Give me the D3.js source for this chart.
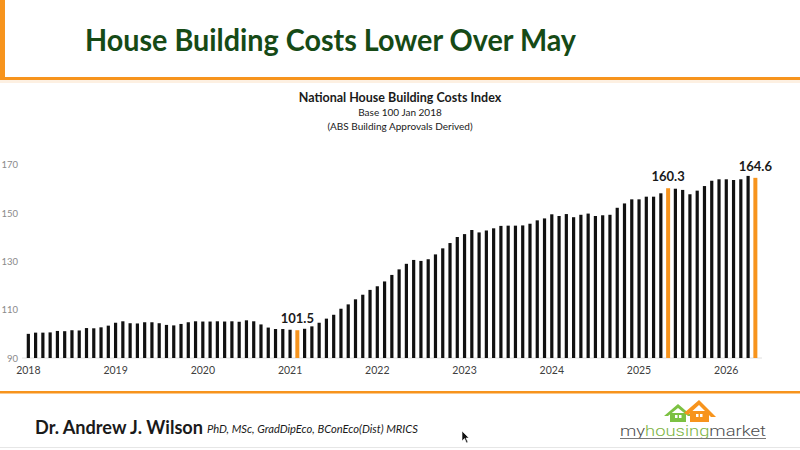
<!DOCTYPE html>
<html>
<head>
<meta charset="utf-8">
<script src="https://cdn.jsdelivr.net/npm/d3@7"></script>
<style>
  body { margin: 0; background: #fff; }
  svg { display: block; }
</style>
</head>
<body>
<div id="chart"></div>
<script>
var width = 800;
var height = 450;

// monthly index values, Jan 2018 .. May 2026 (base 100 Jan 2018)
var years = ['2018', '2019', '2020', '2021', '2022', '2023', '2024', '2025', '2026'];
var monthNames = ['01', '02', '03', '04', '05', '06', '07', '08', '09', '10', '11', '12'];
var indexValues = [
  100.0, 100.5, 100.5, 100.6, 101.2, 101.1, 101.5, 101.4, 102.4, 102.3, 102.7, 103.4,
  104.6, 105.2, 104.4, 104.3, 104.8, 104.8, 104.4, 103.7, 103.5, 104.1, 104.8, 105.2,
  105.1, 105.1, 105.2, 105.1, 105.2, 105.0, 105.6, 105.2, 103.9, 102.6, 102.0, 102.0,
  101.7, 101.5, 102.1, 103.1, 104.6, 106.3, 107.9, 110.4, 112.2, 114.3, 116.2, 118.2,
  119.7, 121.7, 124.4, 126.7, 129.0, 130.6, 130.2, 130.9, 132.9, 135.4, 137.6, 140.1,
  141.3, 143.0, 142.0, 142.8, 143.7, 144.7, 144.8, 144.8, 144.9, 145.6, 147.0, 147.8,
  149.5, 148.8, 149.6, 148.3, 149.3, 149.8, 148.8, 149.1, 149.3, 152.2, 154.0, 155.7,
  155.7, 156.8, 156.8, 158.2, 160.3, 160.1, 159.6, 157.8, 159.3, 161.2, 163.4, 164.0,
  164.0, 163.7, 164.0, 165.4, 164.6
];
var highlightMonths = ['2021-02', '2025-05', '2026-05'];
var yTicks = [90, 110, 130, 150, 170];

var months = [];
years.forEach(function(y) {
  monthNames.forEach(function(m) { months.push(y + '-' + m); });
});
months = months.slice(0, indexValues.length);
var data = months.map(function(m, i) { return { month: m, value: indexValues[i] }; });

var svg = d3.select('#chart').append('svg')
  .attr('width', width)
  .attr('height', height);

// header
svg.append('rect').attr('x', 0).attr('y', 0).attr('width', 5).attr('height', 79).attr('fill', '#f7941d');
svg.append('rect').attr('x', 0).attr('y', 77).attr('width', width).attr('height', 3).attr('fill', '#f7941d');
svg.append('rect').attr('x', 0).attr('y', 80).attr('width', width).attr('height', 3).attr('fill', '#fdf0e2');

svg.append('text')
  .attr('x', 85).attr('y', 51)
  .attr('font-family', 'Lato, sans-serif')
  .attr('font-weight', 'bold')
  .attr('font-size', 30.5)
  .attr('fill', '#164a16')
  .attr('textLength', 491)
  .attr('lengthAdjust', 'spacingAndGlyphs')
  .text('House Building Costs Lower Over May');

var titles = [
  { t: 'National House Building Costs Index', y: 102, s: 12.5, w: 'bold' },
  { t: 'Base 100 Jan 2018', y: 116, s: 10, w: 'normal' },
  { t: '(ABS Building Approvals Derived)', y: 130, s: 10, w: 'normal' }
];
svg.selectAll('.ctitle').data(titles).enter().append('text')
  .attr('class', 'ctitle')
  .attr('x', 400).attr('y', function(d) { return d.y; })
  .attr('text-anchor', 'middle')
  .attr('font-family', 'Lato, sans-serif')
  .attr('font-size', function(d) { return d.s; })
  .attr('font-weight', function(d) { return d.w; })
  .attr('fill', '#1a1a1a')
  .text(function(d) { return d.t; });

// scales
var x = d3.scaleBand()
  .domain(months)
  .range([24.7, 759])
  .paddingInner(0.56)
  .paddingOuter(0.28);

var y = d3.scaleLinear()
  .domain([90, 170])
  .range([358, 164.8]);

svg.append('line')
  .attr('x1', 22).attr('x2', 762)
  .attr('y1', y(90)).attr('y2', y(90))
  .attr('stroke', '#e0e0e0').attr('stroke-width', 1);

svg.selectAll('.bar').data(data).enter().append('rect')
  .attr('class', 'bar')
  .attr('x', function(d) {
    var hi = highlightMonths.indexOf(d.month) >= 0;
    return x(d.month) + x.bandwidth() / 2 - (hi ? 2 : 1.6);
  })
  .attr('width', function(d) { return highlightMonths.indexOf(d.month) >= 0 ? 4 : 3.2; })
  .attr('y', function(d) { return y(d.value); })
  .attr('height', function(d) { return y(90) - y(d.value); })
  .attr('fill', function(d) { return highlightMonths.indexOf(d.month) >= 0 ? '#f7941d' : '#111'; });

svg.selectAll('.vlabel').data(data.filter(function(d) { return highlightMonths.indexOf(d.month) >= 0; }))
  .enter().append('text')
  .attr('class', 'vlabel')
  .attr('x', function(d) { return x(d.month) + x.bandwidth() / 2; })
  .attr('y', function(d) { return y(d.value) - 7; })
  .attr('text-anchor', 'middle')
  .attr('font-family', 'Lato, sans-serif')
  .attr('font-weight', 'bold')
  .attr('font-size', 13)
  .attr('fill', '#1a1a1a')
  .text(function(d) { return d.value.toFixed(1); });

// axes
var yAxis = svg.append('g')
  .attr('transform', 'translate(18,0)')
  .call(d3.axisLeft(y).tickValues(yTicks).tickSize(0).tickPadding(0));
yAxis.select('.domain').remove();
yAxis.selectAll('text')
  .attr('font-family', 'Lato, sans-serif')
  .attr('font-size', 9.5)
  .attr('fill', '#8a8a8a');

var xAxis = svg.append('g')
  .attr('transform', 'translate(0,' + 363 + ')')
  .call(d3.axisBottom(x)
    .tickValues(years.map(function(yr) { return yr + '-01'; }))
    .tickFormat(function(d) { return d.slice(0, 4); })
    .tickSize(0).tickPadding(4));
xAxis.select('.domain').remove();
xAxis.selectAll('text')
  .attr('font-family', 'Lato, sans-serif')
  .attr('font-size', 10.5)
  .attr('fill', '#404040');

// footer
svg.append('rect').attr('x', 0).attr('y', 391).attr('width', width).attr('height', 2.5).attr('fill', '#f7941d');
svg.append('rect').attr('x', 0).attr('y', 447).attr('width', width).attr('height', 1).attr('fill', '#e6e6e6');

svg.append('text')
  .attr('x', 35).attr('y', 434)
  .attr('font-family', 'Lato, sans-serif')
  .attr('font-weight', 'bold').attr('font-size', 18.5)
  .attr('fill', '#1a1a1a')
  .attr('textLength', 168)
  .attr('lengthAdjust', 'spacingAndGlyphs')
  .text('Dr. Andrew J. Wilson');
svg.append('text')
  .attr('x', 207).attr('y', 433)
  .attr('font-family', 'Lato, sans-serif')
  .attr('font-style', 'italic').attr('font-size', 10.5)
  .attr('fill', '#1a1a1a')
  .attr('textLength', 211)
  .attr('lengthAdjust', 'spacingAndGlyphs')
  .text('PhD, MSc, GradDipEco, BConEco(Dist) MRICS');

// logo
var logo = svg.append('g');
logo.append('path')
  .attr('d', 'M664,416 L678,404 L692,416 L688,416 L678,408 L668,416 Z')
  .attr('fill', '#7cc142');
logo.append('rect').attr('x', 670).attr('y', 413).attr('width', 16).attr('height', 9).attr('fill', '#7cc142');
logo.append('path')
  .attr('d', 'M684,413 L699,400 L716,417 L711,417 L699,405 L688,415 Z')
  .attr('fill', '#f7941d');
logo.append('rect').attr('x', 690).attr('y', 411).attr('width', 19).attr('height', 11).attr('fill', '#f7941d');
logo.append('rect').attr('x', 675).attr('y', 415).attr('width', 2.5).attr('height', 3).attr('fill', '#fff');
logo.append('rect').attr('x', 679).attr('y', 415).attr('width', 2.5).attr('height', 3).attr('fill', '#fff');
logo.append('rect').attr('x', 696).attr('y', 414).attr('width', 2.5).attr('height', 3).attr('fill', '#fff');
logo.append('rect').attr('x', 700).attr('y', 414).attr('width', 2.5).attr('height', 3).attr('fill', '#fff');

var logoText = logo.append('text')
  .attr('x', 620).attr('y', 436)
  .attr('font-family', 'Roboto, sans-serif')
  .attr('font-weight', 300)
  .attr('font-size', 15)
  .attr('textLength', 146)
  .attr('lengthAdjust', 'spacingAndGlyphs');
logoText.append('tspan').attr('fill', '#4d4d4d').text('my');
logoText.append('tspan').attr('fill', '#7cb342').text('housing');
logoText.append('tspan').attr('fill', '#4d4d4d').text('market');
logo.append('rect').attr('x', 620).attr('y', 438).attr('width', 146).attr('height', 1).attr('fill', '#777');

// mouse pointer
svg.append('path')
  .attr('d', 'M462,431 L462,441 L464.5,438.5 L466.5,443 L468,442.3 L466,438 L469,438 Z')
  .attr('fill', '#111').attr('stroke', '#fff').attr('stroke-width', 0.6);
</script>
</body>
</html>
